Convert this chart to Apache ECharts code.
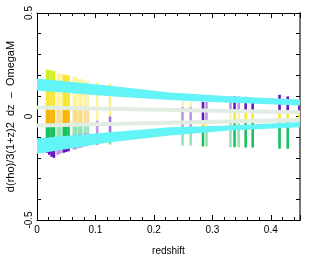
<!DOCTYPE html>
<html><head><meta charset="utf-8">
<script src="https://cdn.jsdelivr.net/npm/echarts@6/dist/echarts.min.js"></script>
<style>html,body{margin:0;padding:0;background:#fff}#c{width:327px;height:265px}</style>
</head><body><div id="c"></div>
<script>
// ---- data ----
const xTickValues = [0, 0.1, 0.2, 0.3, 0.4];
const yTickLabels = [-0.5, 0, 0.5];

const barZ = [0.017, 0.021, 0.025, 0.029, 0.0355, 0.040, 0.0457, 0.050, 0.054,
  0.063, 0.067, 0.072, 0.076, 0.082, 0.087, 0.103, 0.125,
  0.249, 0.263, 0.284, 0.290, 0.331, 0.338, 0.345, 0.357, 0.369, 0.415, 0.429, 0.449];
// segment edges from top to bottom
const barEdges = [
  [0.226, 0.13, 0.045, -0.045, -0.10, -0.175],
  [0.225, 0.13, 0.045, -0.045, -0.10, -0.185],
  [0.222, 0.13, 0.045, -0.045, -0.10, -0.195],
  [0.219, 0.13, 0.045, -0.045, -0.10, -0.200],
  [0.210, 0.045, -0.045, -0.10, -0.185],
  [0.207, 0.045, -0.045, -0.10, -0.180],
  [0.203, 0.045, -0.045, -0.095, -0.175],
  [0.201, 0.045, -0.045, -0.095, -0.172],
  [0.199, 0.045, -0.045, -0.095, -0.168],
  [0.193, 0.045, -0.045, -0.09, -0.160],
  [0.190, 0.045, -0.045, -0.09, -0.158],
  [0.183, 0.04, -0.04, -0.085, -0.152],
  [0.180, 0.04, -0.04, -0.085, -0.150],
  [0.175, 0.035, -0.035, -0.08, -0.145],
  [0.172, 0.035, -0.035, -0.08, -0.142],
  [0.166, -0.02, -0.138],
  [0.160, 0.0, -0.075, -0.135],
  [0.075, 0.045, -0.05, -0.140],
  [0.070, 0.045, -0.05, -0.140],
  [0.070, -0.02, -0.05, -0.145],
  [0.070, -0.02, -0.05, -0.145],
  [0.097, 0.02, -0.03, -0.148],
  [0.097, 0.02, -0.03, -0.148],
  [0.097, 0.02, -0.03, -0.148],
  [0.095, 0.02, -0.03, -0.150],
  [0.090, 0.02, -0.03, -0.150],
  [0.105, 0.02, -0.03, -0.156],
  [0.097, 0.02, -0.03, -0.156],
  [0.080, 0.015, -0.02]
];
const barColors = [
  'LYOGP','LYOGP','LYOGP','LYOGP','YOGP','YOGP','YOGP','YOGP','YOGP',
  'YOGP','YOGP','YOGP','YOGP','YOGP','YOGP','YP','YPG',
  'YPG','YPG','PYG','PYG','PYG','PYG','PYG','PYG','PYG','PYG','PYG','PY'
];
const barWeight = [1, 1, 1, 1, 0.45, 0.45, 1, 1, 1,
  0.45, 0.45, 0.45, 0.45, 0.45, 0.45, 0.45, 0.6,
  0.45, 0.45, 1, 0.45, 0.45, 1, 0.45, 1, 1, 1, 1, 1];

const upperBandZ  = [0, 0.125, 0.227, 0.33, 0.45];
const upperBandLo = [0.126, 0.098, 0.080, 0.066, 0.053];
const upperBandHi = [0.183, 0.148, 0.116, 0.098, 0.082];
const lowerBandZ  = [0, 0.125, 0.227, 0.33, 0.45];
const lowerBandLo = [-0.180, -0.124, -0.092, -0.068, -0.052];
const lowerBandHi = [-0.105, -0.076, -0.052, -0.043, -0.027];

const grayZ = [0, 0.45];
const grayUpper = [0.043, 0.021];
const grayLower = [-0.043, -0.017];

// ---- build ----
const colorMap = {L: '#d2f024', Y: '#f8e634', O: '#f8b406', G: '#16c25c', P: '#6c14c0'};
const segData = [];
barZ.forEach((z, i) => {
  const e = barEdges[i], c = barColors[i];
  for (let k = 0; k < c.length; k++) {
    segData.push([z, e[k + 1], e[k], colorMap[c[k]], barWeight[i]]);
  }
});

function bandSeries(zs, lo, hi) {
  return {
    type: 'custom', xAxisIndex: 0, yAxisIndex: 0, z: 5, clip: true,
    data: [[zs[0], lo[0]]],
    renderItem: function (params, api) {
      const pts = [];
      for (let i = 0; i < zs.length; i++) pts.push(api.coord([zs[i], hi[i]]));
      for (let i = zs.length - 1; i >= 0; i--) pts.push(api.coord([zs[i], lo[i]]));
      return {type: 'polygon', shape: {points: pts}, style: {fill: '#62f4f6'}};
    }
  };
}

const fnt = 'Liberation Sans, Arial, sans-serif';
const gridRect = {left: 37, right: 27, top: 13, bottom: 45, outerBoundsMode: 'none'};

const chart = echarts.init(document.getElementById('c'));
chart.setOption({
  animation: false,
  backgroundColor: '#fff',
  grid: [Object.assign({}, gridRect), Object.assign({}, gridRect)],
  xAxis: [
    {type: 'value', gridIndex: 0, position: 'bottom', min: 0, max: 0.45, interval: 0.02,
      axisLine: {show: true, onZero: false, lineStyle: {color: '#000', width: 1}},
      axisTick: {show: true, inside: true, length: 3, lineStyle: {color: '#000'}},
      splitLine: {show: false},
      axisLabel: {show: true, margin: 5, fontSize: 10, color: '#000', fontFamily: fnt,
        formatter: v => {
          for (const t of xTickValues) if (Math.abs(v - t) < 1e-6) return t === 0 ? '0' : String(t);
          return '';
        }},
      name: 'redshift', nameLocation: 'middle', nameGap: 26,
      nameTextStyle: {fontSize: 10, color: '#000', fontFamily: fnt}},
    {type: 'value', gridIndex: 0, position: 'top', min: 0, max: 0.45, interval: 0.02,
      axisLine: {show: true, onZero: false, lineStyle: {color: '#000', width: 1}},
      axisTick: {show: true, inside: true, length: 3, lineStyle: {color: '#000'}},
      splitLine: {show: false}, axisLabel: {show: false}},
    {type: 'value', gridIndex: 1, position: 'bottom', min: 0, max: 0.45, interval: 0.1,
      axisLine: {show: false, onZero: false},
      axisTick: {show: true, inside: true, length: 5, lineStyle: {color: '#000'}},
      splitLine: {show: false}, axisLabel: {show: false}},
    {type: 'value', gridIndex: 1, position: 'top', min: 0, max: 0.45, interval: 0.1,
      axisLine: {show: false, onZero: false},
      axisTick: {show: true, inside: true, length: 5, lineStyle: {color: '#000'}},
      splitLine: {show: false}, axisLabel: {show: false}}
  ],
  yAxis: [
    {type: 'value', gridIndex: 0, position: 'left', min: -0.5, max: 0.5, interval: 0.1,
      axisLine: {show: true, onZero: false, lineStyle: {color: '#000', width: 1}},
      axisTick: {show: true, inside: true, length: 4, lineStyle: {color: '#000'}},
      splitLine: {show: false},
      axisLabel: {show: true, rotate: 90, margin: 3, fontSize: 10, color: '#000', fontFamily: fnt,
        formatter: v => {
          for (const t of yTickLabels) if (Math.abs(v - t) < 1e-6) return t === 0 ? '0' : String(t);
          return '';
        }},
      name: 'd(rho)/3(1+z)2  dz  \u2013  OmegaM', nameLocation: 'middle', nameRotate: 90, nameGap: 15,
      nameTextStyle: {fontSize: 11, color: '#000', fontFamily: fnt}},
    {type: 'value', gridIndex: 0, position: 'right', min: -0.5, max: 0.5, interval: 0.1,
      axisLine: {show: true, onZero: false, lineStyle: {color: '#777', width: 2}},
      axisTick: {show: true, inside: true, length: 4, lineStyle: {color: '#000'}},
      splitLine: {show: false}, axisLabel: {show: false}},
    {type: 'value', gridIndex: 1, position: 'left', min: -0.5, max: 0.5, show: false,
      axisLine: {onZero: false}},
    {type: 'value', gridIndex: 1, position: 'right', min: -0.5, max: 0.5, show: false,
      axisLine: {onZero: false}}
  ],
  series: [
    {
      type: 'custom', xAxisIndex: 0, yAxisIndex: 0, z: 2, clip: true,
      data: segData,
      renderItem: function (params, api) {
        const z = api.value(0), lo = api.value(1), hi = api.value(2);
        const d = segData[params.dataIndex];
        const p1 = api.coord([z, hi]), p2 = api.coord([z, lo]);
        const w = 2.6;
        return {type: 'rect', shape: {x: p1[0] - w / 2, y: p1[1], width: w, height: p2[1] - p1[1]},
          style: {fill: d[3], opacity: d[4]}};
      }
    },
    {type: 'line', xAxisIndex: 0, yAxisIndex: 0, z: 3, symbol: 'none', silent: true,
      data: grayZ.map((z, i) => [z, grayUpper[i]]),
      lineStyle: {color: '#e2ece2', width: 4}},
    {type: 'line', xAxisIndex: 0, yAxisIndex: 0, z: 3, symbol: 'none', silent: true,
      data: grayZ.map((z, i) => [z, grayLower[i]]),
      lineStyle: {color: '#e2ece2', width: 4}},
    bandSeries(upperBandZ, upperBandLo, upperBandHi),
    bandSeries(lowerBandZ, lowerBandLo, lowerBandHi)
  ]
});
</script>
</body></html>
